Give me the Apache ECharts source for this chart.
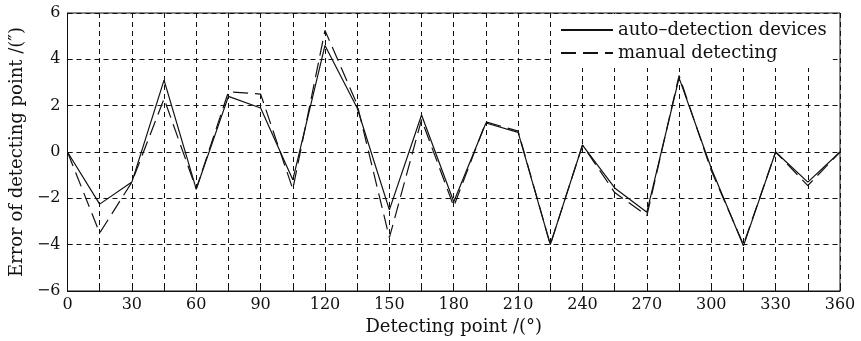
<!DOCTYPE html>
<html>
<head>
<meta charset="utf-8">
<script src="https://cdn.jsdelivr.net/npm/echarts@6/dist/echarts.min.js"></script>
<style>
  html, body { margin: 0; padding: 0; background: #fff; }
  #chart { width: 861px; height: 341px; }
</style>
</head>
<body>
<div id="chart"></div>
<script>
// detecting points, degrees
const angles = [0, 15, 30, 45, 60, 75, 90, 105, 120, 135, 150, 165, 180,
  195, 210, 225, 240, 255, 270, 285, 300, 315, 330, 345, 360];
// error in arc seconds
const autoDevices = [0, -2.25, -1.3, 3.1, -1.6, 2.4, 1.9, -1.2, 4.6, 1.9, -2.5, 1.6, -2.15,
  1.25, 0.85, -4.0, 0.3, -1.55, -2.6, 3.2, -0.7, -4.05, 0.0, -1.3, 0];
const manualDetecting = [0, -3.5, -1.3, 2.3, -1.6, 2.6, 2.5, -1.6, 5.25, 2.05, -3.7, 1.4, -2.35,
  1.3, 0.9, -4.0, 0.3, -1.75, -2.75, 3.3, -0.8, -4.0, 0.0, -1.45, 0];

const font = 'DejaVu Serif';
const ink = '#111';

const toPairs = (ys) => angles.map((a, i) => [a, ys[i]]);
const minus = (v) => (v < 0 ? '\u2212' + (-v) : String(v));

const chart = echarts.init(document.getElementById('chart'));

const option = {
  animation: false,
  backgroundColor: '#fff',
  textStyle: { fontFamily: font, color: ink },
  grid: {
    left: 64,
    right: 21,
    top: 13,
    bottom: 49,
    show: true,
    borderColor: ink,
    borderWidth: 1,
    backgroundColor: 'transparent',
  },
  legend: {
    orient: 'vertical',
    left: 551,
    top: 14,
    padding: [6, 6, 5, 9],
    itemGap: 3,
    itemWidth: 52,
    itemHeight: 14,
    backgroundColor: '#fff',
    itemStyle: { opacity: 0 },
    textStyle: { fontFamily: font, fontSize: 18, color: ink, lineHeight: 20 },
    data: ['auto\u2013detection devices', 'manual detecting'],
  },
  xAxis: {
    type: 'value',
    min: 0,
    max: 360,
    interval: 15,
    name: 'Detecting point /(\u00b0)',
    nameLocation: 'middle',
    nameGap: 27,
    nameTextStyle: { fontFamily: font, fontSize: 18, color: ink },
    axisLine: { show: true, onZero: false, lineStyle: { color: ink, width: 1 } },
    axisTick: { show: true, inside: true, length: 5, lineStyle: { color: ink } },
    axisLabel: {
      fontFamily: font,
      fontSize: 16,
      color: ink,
      margin: 6,
      formatter: (v) => (v % 30 === 0 ? String(v) : ''),
    },
    splitLine: { show: true, lineStyle: { color: ink, type: [5, 4], width: 1 } },
  },
  yAxis: {
    type: 'value',
    min: -6,
    max: 6,
    interval: 2,
    name: 'Error of detecting point /(\u2033)',
    nameLocation: 'middle',
    nameGap: 37,
    nameTextStyle: { fontFamily: font, fontSize: 18, color: ink },
    axisLine: { show: true, onZero: false, lineStyle: { color: ink, width: 1 } },
    axisTick: { show: true, inside: true, length: 5, lineStyle: { color: ink } },
    axisLabel: { fontFamily: font, fontSize: 16, color: ink, margin: 7, formatter: minus },
    splitLine: { show: true, lineStyle: { color: ink, type: [5, 4], width: 1 } },
  },
  series: [
    {
      name: 'auto\u2013detection devices',
      type: 'line',
      symbol: 'none',
      data: toPairs(autoDevices),
      lineStyle: { color: ink, width: 1.2, type: 'solid' },
      itemStyle: { color: ink },
    },
    {
      name: 'manual detecting',
      type: 'line',
      symbol: 'none',
      data: toPairs(manualDetecting),
      lineStyle: { color: ink, width: 1.2, type: [15, 7] },
      itemStyle: { color: ink },
    },
  ],
};

chart.setOption(option);
</script>
</body>
</html>
